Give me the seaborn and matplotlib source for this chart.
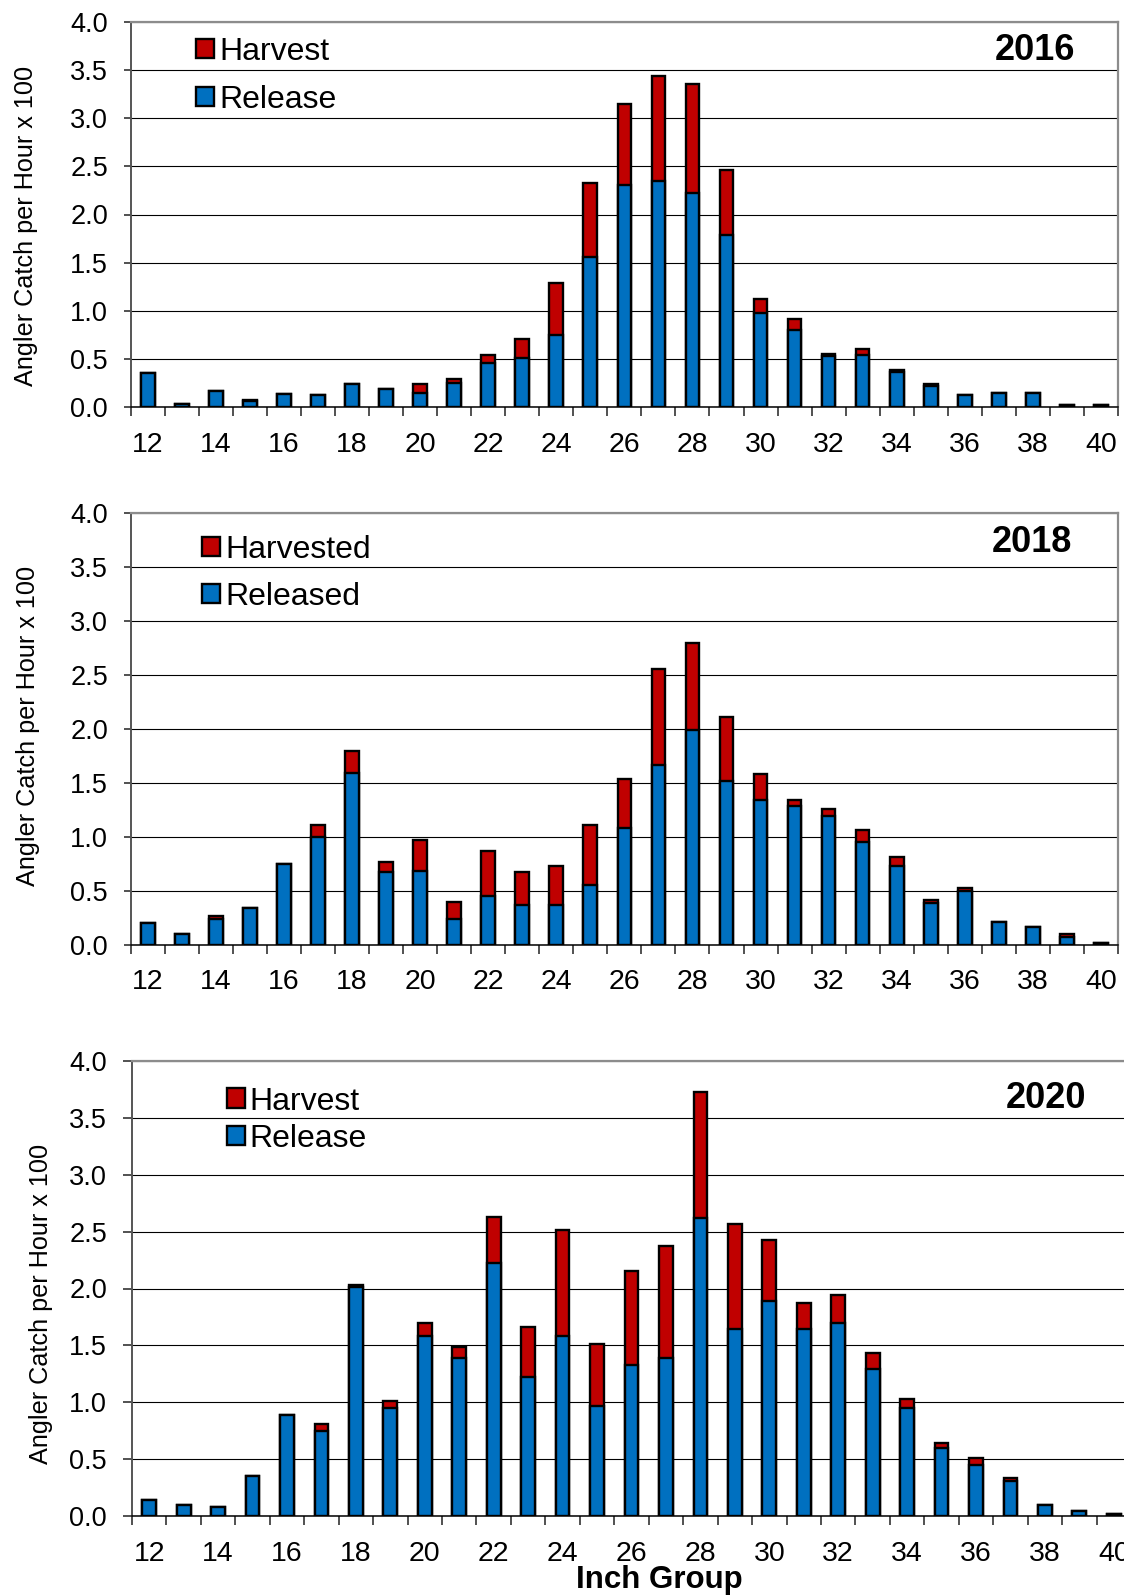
import matplotlib
matplotlib.use("Agg")
import matplotlib.pyplot as plt
from matplotlib.patches import Patch
import seaborn as sns
import pandas as pd
import numpy as np

# Inch groups
inches = list(range(12, 41))

# 2016 (Angler catch per hour x 100)
release_2016 = [0.35, 0.03, 0.17, 0.06, 0.13, 0.12, 0.24, 0.19, 0.15, 0.25,
                0.46, 0.51, 0.75, 1.56, 2.31, 2.35, 2.22, 1.79, 0.98, 0.80,
                0.53, 0.54, 0.36, 0.22, 0.12, 0.15, 0.15, 0.02, 0.02]
harvest_2016 = [0.00, 0.00, 0.00, 0.01, 0.00, 0.00, 0.00, 0.00, 0.09, 0.04,
                0.08, 0.20, 0.54, 0.77, 0.84, 1.09, 1.14, 0.67, 0.14, 0.11,
                0.02, 0.06, 0.02, 0.02, 0.00, 0.00, 0.00, 0.00, 0.00]

# 2018
release_2018 = [0.20, 0.10, 0.24, 0.34, 0.75, 1.00, 1.59, 0.67, 0.68, 0.24,
                0.45, 0.37, 0.37, 0.55, 1.08, 1.67, 1.99, 1.52, 1.34, 1.29,
                1.19, 0.95, 0.73, 0.39, 0.50, 0.21, 0.16, 0.07, 0.02]
harvest_2018 = [0.00, 0.00, 0.03, 0.00, 0.00, 0.11, 0.21, 0.10, 0.29, 0.16,
                0.42, 0.30, 0.36, 0.56, 0.46, 0.89, 0.81, 0.59, 0.24, 0.05,
                0.07, 0.11, 0.08, 0.02, 0.03, 0.00, 0.00, 0.03, 0.00]

# 2020
release_2020 = [0.14, 0.10, 0.08, 0.35, 0.89, 0.75, 2.01, 0.95, 1.58, 1.39,
                2.22, 1.22, 1.58, 0.97, 1.33, 1.39, 2.62, 1.64, 1.89, 1.64,
                1.70, 1.29, 0.95, 0.60, 0.45, 0.31, 0.10, 0.04, 0.02]
harvest_2020 = [0.00, 0.00, 0.00, 0.00, 0.00, 0.06, 0.02, 0.06, 0.12, 0.10,
                0.41, 0.44, 0.93, 0.54, 0.82, 0.98, 1.11, 0.93, 0.54, 0.23,
                0.24, 0.14, 0.08, 0.04, 0.06, 0.02, 0.00, 0.00, 0.00]

RED = "#C00000"
BLUE = "#0070C0"
W, H = 1124, 1595

sns.set_style("white")
plt.rcParams["font.family"] = ["Liberation Sans", "DejaVu Sans"]
plt.rcParams["text.color"] = "black"

fig = plt.figure(figsize=(W / 100, H / 100), dpi=100)


def px_rect(left, right, top, bottom):
    return [left / W, 1 - bottom / H, (right - left) / W, (bottom - top) / H]


# panel settings: axes box in pixels, legend, labels
panels = [
    dict(year="2016", rel=release_2016, har=harvest_2016,
         box=(130.7, 1118, 22, 407), labels=("Harvest", "Release"),
         leg=(196, 36.8), lspace=0.56, tpad=0.17,
         yr=(1035, 60), ylab=(26, 226), xpad=18.0, ypad=11.3, ylen=5),
    dict(year="2018", rel=release_2018, har=harvest_2018,
         box=(130.7, 1118, 513.3, 944.7), labels=("Harvested", "Released"),
         leg=(202, 535), lspace=0.53, tpad=0.17,
         yr=(1032, 552), ylab=(28, 726), xpad=17.5, ypad=11.3, ylen=5),
    dict(year="2020", rel=release_2020, har=harvest_2020,
         box=(132, 1131, 1061, 1516), labels=("Harvest", "Release"),
         leg=(227, 1086.5), lspace=0.23, tpad=0.14,
         yr=(1046, 1108), ylab=(41, 1304), xpad=18.0, ypad=11.5, ylen=6.5),
]

for p in panels:
    ax = fig.add_axes(px_rect(*p["box"]))
    df = pd.DataFrame({
        "inch": inches,
        "release": p["rel"],
        "total": np.array(p["rel"]) + np.array(p["har"]),
    })
    # stacked: total (harvest on top) first, then release over it
    sns.barplot(data=df, x="inch", y="total", order=inches, color=RED,
                saturation=1, width=0.4, edgecolor="black", linewidth=1.7,
                errorbar=None, ax=ax, zorder=3)
    sns.barplot(data=df, x="inch", y="release", order=inches, color=BLUE,
                saturation=1, width=0.4, edgecolor="black", linewidth=1.7,
                errorbar=None, ax=ax, zorder=4)

    ax.set_xlim(-0.5, len(inches) - 0.5)
    ax.set_ylim(0, 4.0)
    ax.set_xlabel("")
    ax.set_ylabel("")

    ax.set_yticks(np.arange(0, 4.01, 0.5))
    ax.set_yticklabels([f"{v:.1f}" for v in np.arange(0, 4.01, 0.5)])
    ax.yaxis.grid(True, color="black", linewidth=0.8)
    ax.set_axisbelow(True)

    ax.set_xticks(range(0, len(inches), 2))
    ax.set_xticklabels([str(v) for v in inches[::2]])
    ax.set_xticks(np.arange(-0.5, len(inches), 1), minor=True)
    ax.tick_params(axis="x", which="major", length=0, pad=p["xpad"],
                   labelsize=20.5, colors="black")
    ax.tick_params(axis="x", which="minor", length=6.5, width=1.2,
                   direction="out", color="#333333", bottom=True)
    ax.tick_params(axis="y", which="major", length=p["ylen"], width=1.2,
                   direction="out", left=True, pad=p["ypad"], labelsize=19.5,
                   colors="black")
    ax.tick_params(axis="y", color="#333333")

    for side in ["top", "right"]:
        ax.spines[side].set_color("#8c8c8c")
        ax.spines[side].set_linewidth(1.6)
    ax.spines["left"].set_color("#555555")
    ax.spines["left"].set_linewidth(1.4)
    ax.spines["bottom"].set_color("black")
    ax.spines["bottom"].set_linewidth(1.1)

    handles = [Patch(facecolor=RED, edgecolor="black", linewidth=1.7),
               Patch(facecolor=BLUE, edgecolor="black", linewidth=1.7)]
    lx, ly = p["leg"]
    ax.legend(handles, p["labels"], loc="upper left",
              bbox_to_anchor=(lx / W, 1 - ly / H),
              bbox_transform=fig.transFigure, frameon=False, fontsize=23,
              handlelength=0.56, handleheight=0.56, handletextpad=p["tpad"],
              labelspacing=p["lspace"], borderpad=0, borderaxespad=0)

    yx, yy = p["yr"]
    fig.text(yx / W, 1 - yy / H, p["year"], ha="center", va="baseline",
             fontsize=26, fontweight="bold", color="black")
    lx, ly = p["ylab"]
    fig.text(lx / W, 1 - ly / H, "Angler Catch per Hour x 100", rotation=90,
             ha="center", va="center", fontsize=18.2, color="black")

fig.text(659 / W, 1 - 1580 / H, "Inch Group", ha="center", va="center",
         fontsize=22.5, fontweight="bold", color="black")

fig.savefig("out.png", dpi=100)
